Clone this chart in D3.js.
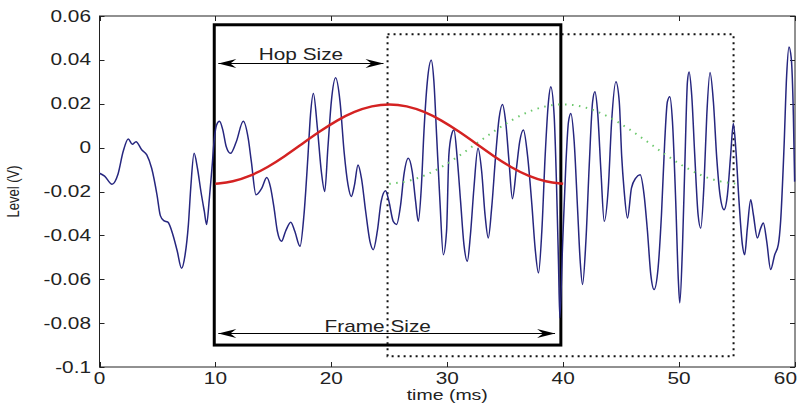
<!DOCTYPE html>
<html>
<head>
<meta charset="utf-8">
<script src="https://cdn.jsdelivr.net/npm/d3@7"></script>
<style>
  html, body { margin: 0; padding: 0; background: #fff; }
  svg { display: block; }
  text { font-family: "Liberation Sans", Arial, Helvetica, sans-serif; fill: #222; }
</style>
</head>
<body>
<svg id="chart" width="798" height="403"></svg>
<script>
// ---- data ----
const timeMs = [0,0.44,1.08,1.6,2.04,2.48,2.83,3.15,3.64,4.08,4.5,4.96,5.25,5.54,5.9,6.33,6.7,7.08,7.38,7.67,7.87,8.16,8.45,8.75,9.04,9.24,9.48,9.7,9.91,10.1,10.35,10.64,10.93,11.3,11.8,12.4,12.83,13.1,13.5,14.0,14.43,14.75,15.06,15.34,15.7,16.06,16.5,16.84,17.3,17.64,17.99,18.2,18.45,18.8,19.14,19.43,19.7,20.0,20.37,20.75,21.1,21.44,21.72,22.0,22.3,22.6,22.96,23.33,23.62,23.97,24.3,24.68,24.97,25.34,25.63,25.98,26.26,26.64,26.98,27.27,27.5,27.76,27.99,28.28,28.62,28.85,29.08,29.37,29.66,29.94,30.14,30.37,30.58,30.86,31.15,31.44,31.73,32.0,32.3,32.65,32.97,33.26,33.54,33.83,34.18,34.47,34.76,35.04,35.33,35.62,35.97,36.25,36.57,36.92,37.3,37.58,37.87,38.16,38.45,38.73,38.93,39.22,39.42,39.6,39.71,39.94,40.23,40.46,40.66,40.95,41.24,41.47,41.67,41.96,42.25,42.54,42.74,42.97,43.26,43.54,43.89,44.18,44.55,44.84,45.05,45.25,45.55,45.89,46.26,46.64,46.98,47.27,47.56,47.84,48.19,48.48,48.76,48.99,49.2,49.43,49.71,49.94,50.06,50.29,50.52,50.72,50.86,51.09,51.35,51.64,51.87,52.16,52.39,52.67,52.96,53.25,53.53,53.88,54.17,54.45,54.68,54.89,55.17,55.46,55.66,55.89,56.18,56.41,56.75,57.04,57.27,57.56,57.9,58.25,58.56,58.76,59.05,59.28,59.48,59.68,59.86,59.97];
const levelV = [-0.0117,-0.013,-0.0167,-0.012,-0.0018,0.0039,0.0015,0.0027,-0.001,-0.0033,-0.0094,-0.0215,-0.031,-0.0333,-0.034,-0.0397,-0.047,-0.055,-0.049,-0.035,-0.0185,-0.0026,-0.0094,-0.02,-0.029,-0.035,-0.023,-0.0094,0.0042,0.0103,0.012,0.008,0.0005,-0.0026,0.0027,0.012,0.0042,-0.0064,-0.0215,-0.0185,-0.0136,-0.018,-0.0276,-0.038,-0.0427,-0.038,-0.034,-0.038,-0.045,-0.0306,-0.0033,0.0148,0.0247,0.0088,-0.011,-0.02,-0.0003,0.021,0.0318,0.021,-0.0018,-0.017,-0.0223,-0.017,-0.0079,-0.014,-0.029,-0.0427,-0.0465,-0.038,-0.0245,-0.0197,-0.0245,-0.0336,-0.035,-0.026,-0.0124,-0.0048,-0.0109,-0.0245,-0.0336,-0.0185,0.0073,0.03,0.0398,0.03,0.0058,-0.0245,-0.0488,-0.038,-0.0033,0.0058,0.008,-0.0048,-0.0245,-0.0442,-0.0518,-0.0397,-0.0185,-0.0003,-0.0109,-0.0306,-0.0412,-0.0276,-0.0033,0.0133,0.0197,0.0118,-0.0064,-0.0233,-0.0094,0.0027,0.008,-0.0033,-0.026,-0.0458,-0.0571,-0.038,-0.0033,0.0209,0.0277,0.0148,-0.0155,-0.0533,-0.0776,-0.0458,-0.0079,0.0118,0.0156,0.0027,-0.0276,-0.0518,-0.0624,-0.0427,-0.0079,0.0209,0.0255,0.0164,-0.0109,-0.0336,-0.0185,0.0118,0.03,0.0209,-0.004,-0.019,-0.0321,-0.0185,-0.0139,-0.0124,-0.0215,-0.038,-0.0579,-0.0647,-0.0548,-0.0306,0.0027,0.0209,0.0232,0.0118,-0.0245,-0.0609,-0.0708,-0.0458,-0.0033,0.03,0.0345,0.0239,-0.0033,-0.0306,-0.0367,-0.0155,0.0148,0.0342,0.0209,-0.0048,-0.0215,-0.0283,-0.0215,-0.0033,0.011,-0.0003,-0.0245,-0.0442,-0.0488,-0.0367,-0.0238,-0.0306,-0.0412,-0.0367,-0.0344,-0.0427,-0.0556,-0.0488,-0.0442,-0.0336,-0.0003,0.033,0.0459,0.0406,0.0148,-0.0155];

// analysis window shape (offset in ms from frame start, level in V)
const windowOffsetMs = [0,1.5,3,4.5,6,7.5,9,10.5,12,13.5,15,16.5,18,19.5,21,22.5,24,25.5,27,28.5,30];
const windowLevelV = [-0.0165,-0.0156,-0.0130,-0.0090,-0.0039,0.0018,0.0074,0.0125,0.0165,0.0191,0.0200,0.0191,0.0165,0.0125,0.0074,0.0018,-0.0039,-0.0090,-0.0130,-0.0156,-0.0165];
const frameStartsMs = [10, 25];

// frame boxes [x0, x1, yTop, yBottom]
const frameBox1 = [9.9, 39.8, 0.056, -0.09];
const frameBox2 = [24.85, 54.7, 0.0517, -0.0951];

const xTicks = [0,10,20,30,40,50,60];
const yTicks = [-0.1,-0.08,-0.06,-0.04,-0.02,0,0.02,0.04,0.06];
const yTickLabels = ["-0.1","-0.08","-0.06","-0.04","-0.02","0","0.02","0.04","0.06"];

const hopArrow = {x0: 10.25, x1: 24.5, y: 0.0388, label: "Hop Size"};
const frameArrow = {x0: 10.25, x1: 39.3, y: -0.0845, label: "Frame Size", labelX: 24};

// ---- drawing ----
const svg = d3.select("#chart");
const W = 798;
const L = 99.5, R = 795, T = 16, B = 367;
const x = d3.scaleLinear().domain([0, 60]).range([L, R]);
const y = d3.scaleLinear().domain([-0.1, 0.06]).range([B, T]);
const SX = 1.3;

// frame rect
svg.append("rect").attr("x", L).attr("y", T).attr("width", R - L).attr("height", B - T)
  .attr("fill", "none").attr("stroke", "#222").attr("stroke-width", 1);

// ticks (inward, all four sides)
const tl = 5;
xTicks.forEach(t => {
  const px = Math.round(x(t)) + 0.5;
  svg.append("line").attr("x1", px).attr("x2", px).attr("y1", B).attr("y2", B - tl).attr("stroke", "#222");
  svg.append("line").attr("x1", px).attr("x2", px).attr("y1", T).attr("y2", T + tl).attr("stroke", "#222");
  const lbl = svg.append("text").attr("text-anchor", "middle").attr("font-size", 16)
    .attr("transform", `translate(${x(t)},384) scale(${SX},1)`).text(String(t));
  // keep the last label inside the picture
  const w = lbl.node().getBBox().width * SX;
  if (x(t) + w / 2 > W - 1) {
    lbl.attr("transform", `translate(${W - 1 - w / 2},384) scale(${SX},1)`);
  }
});
yTicks.forEach((t, i) => {
  const py = Math.round(y(t)) + 0.5;
  svg.append("line").attr("x1", L).attr("x2", L + tl).attr("y1", py).attr("y2", py).attr("stroke", "#222");
  svg.append("line").attr("x1", R).attr("x2", R - tl).attr("y1", py).attr("y2", py).attr("stroke", "#222");
  svg.append("text").attr("text-anchor", "end").attr("font-size", 16)
    .attr("transform", `translate(91,${y(t) + 5.5}) scale(${SX},1)`).text(yTickLabels[i]);
});

// axis titles
svg.append("text").attr("text-anchor", "middle").attr("font-size", 15)
  .attr("transform", `translate(${(L + R) / 2},400) scale(${SX},1)`).text("time (ms)");
svg.append("text").attr("text-anchor", "middle").attr("font-size", 13)
  .attr("transform", `translate(19,${(T + B) / 2}) scale(${SX},1) rotate(-90)`).text("Level (V)");

// frame boxes
svg.append("rect")
  .attr("x", x(frameBox1[0])).attr("y", y(frameBox1[2]))
  .attr("width", x(frameBox1[1]) - x(frameBox1[0])).attr("height", y(frameBox1[3]) - y(frameBox1[2]))
  .attr("fill", "none").attr("stroke", "#000").attr("stroke-width", 3);
svg.append("rect")
  .attr("x", x(frameBox2[0])).attr("y", y(frameBox2[2]))
  .attr("width", x(frameBox2[1]) - x(frameBox2[0])).attr("height", y(frameBox2[3]) - y(frameBox2[2]))
  .attr("fill", "none").attr("stroke", "#111").attr("stroke-width", 2).attr("stroke-dasharray", "2,4");

// arrows
function arrow(a) {
  const py = Math.round(y(a.y)) + 0.5;
  const x0 = x(a.x0), x1 = x(a.x1);
  svg.append("line").attr("x1", x0).attr("x2", x1).attr("y1", py).attr("y2", py).attr("stroke", "#000").attr("stroke-width", 1);
  svg.append("path").attr("d", `M${x0},${py} L${x0 + 18},${py - 4.5} L${x0 + 12},${py} L${x0 + 18},${py + 4.5} Z`).attr("fill", "#000");
  svg.append("path").attr("d", `M${x1},${py} L${x1 - 18},${py - 4.5} L${x1 - 12},${py} L${x1 - 18},${py + 4.5} Z`).attr("fill", "#000");
}
arrow(hopArrow);
arrow(frameArrow);
svg.append("text").attr("text-anchor", "middle").attr("font-size", 16)
  .attr("transform", `translate(${x((hopArrow.x0 + hopArrow.x1) / 2)},${y(hopArrow.y) - 3}) scale(${SX},1)`).text(hopArrow.label);
svg.append("text").attr("text-anchor", "middle").attr("font-size", 16)
  .attr("transform", `translate(${x(frameArrow.labelX)},${y(frameArrow.y) - 1}) scale(${SX},1)`).text(frameArrow.label);

// signal
const sig = timeMs.map((t, i) => [t, levelV[i]]);
const line = d3.line().x(d => x(d[0])).y(d => y(d[1])).curve(d3.curveMonotoneX);
svg.append("path").datum(sig).attr("d", line)
  .attr("fill", "none").attr("stroke", "#26267f").attr("stroke-width", 1.5).attr("stroke-linejoin", "round");

// windows
const winLine = d3.line().x(d => x(d[0])).y(d => y(d[1])).curve(d3.curveBasis);
const win2 = windowOffsetMs.map((o, i) => [frameStartsMs[1] + o, windowLevelV[i]]);
svg.append("path").datum(win2).attr("d", winLine)
  .attr("fill", "none").attr("stroke", "#6cc86c").attr("stroke-width", 2).attr("stroke-dasharray", "1.5,5.5");
const win1 = windowOffsetMs.map((o, i) => [frameStartsMs[0] + o, windowLevelV[i]]);
svg.append("path").datum(win1).attr("d", winLine)
  .attr("fill", "none").attr("stroke", "#d42222").attr("stroke-width", 2.5);
</script>
</body>
</html>
